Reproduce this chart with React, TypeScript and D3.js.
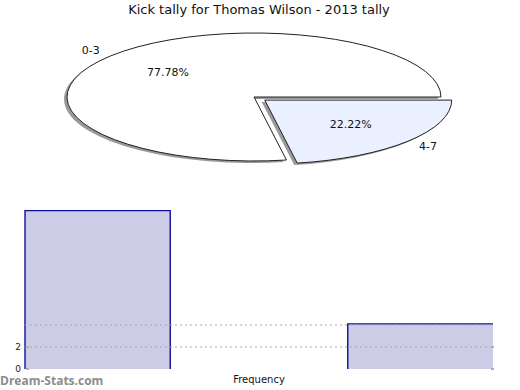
import * as d3 from "d3";

const WIDTH = 520;
const HEIGHT = 390;
const TITLE = "Kick tally for Thomas Wilson - 2013 tally";

// pie data
const pieLabels = ["0-3", "4-7"];
const pieValues = [7, 2];
const pieFills = ["#ffffff", "#eaf0ff"];
const pieExplode = [0, 0.075];

// histogram data
const histBins = ["0-3", "mid", "4-7"];
const histValues = [14.4, 0, 4.1];
const gridValues = [2, 4];
const yTickLabels = [0, 2];

const PIE = { cx: 254, cy: 97, rx: 187, ry: 64 };
const HIST = { left: 25, right: 493, bottom: 369, top: 193 };
const FONT = "DejaVu Sans, sans-serif";

const pt = (a: number, f = 1) => {
  const t = a - Math.PI / 2;
  return [PIE.cx + PIE.rx * f * Math.cos(t), PIE.cy + PIE.ry * f * Math.sin(t)];
};

const slicePath = (a0: number, a1: number) => {
  const [x0, y0] = pt(a0);
  const [x1, y1] = pt(a1);
  const large = a1 - a0 > Math.PI ? 1 : 0;
  return `M${PIE.cx},${PIE.cy}L${x0},${y0}A${PIE.rx},${PIE.ry} 0 ${large} 1 ${x1},${y1}Z`;
};

export default function App() {
  const start = Math.PI / 2 + (2 * Math.PI * pieValues[1]) / d3.sum(pieValues);
  const arcs = d3
    .pie<number>()
    .sort(null)
    .startAngle(start)
    .endAngle(start + 2 * Math.PI)(pieValues);
  const total = d3.sum(pieValues);

  const x = d3
    .scaleBand()
    .domain(histBins)
    .range([HIST.left, HIST.right])
    .paddingInner(0.1)
    .paddingOuter(0);
  const y = d3.scaleLinear().domain([0, 16]).range([HIST.bottom, HIST.top]);

  return (
    <svg
      width={WIDTH}
      height={HEIGHT}
      style={{ position: "absolute", left: 0, top: 0, background: "#fff" }}
      fontFamily={FONT}
    >
      <text x={259} y={14} textAnchor="middle" fontSize={13} fill="#111">
        {TITLE}
      </text>

      {/* shadows */}
      {arcs.map((a, i) => {
        const mid = (a.startAngle + a.endAngle) / 2;
        const [ex, ey] = pt(mid, pieExplode[i]);
        const dx = ex - PIE.cx - 3;
        const dy = ey - PIE.cy + 2;
        return (
          <path
            key={"s" + i}
            d={slicePath(a.startAngle, a.endAngle)}
            transform={`translate(${dx},${dy})`}
            fill="#9a9a9a"
          />
        );
      })}
      {arcs.map((a, i) => {
        const mid = (a.startAngle + a.endAngle) / 2;
        const [ex, ey] = pt(mid, pieExplode[i]);
        const dx = ex - PIE.cx;
        const dy = ey - PIE.cy;
        const [lx, ly] = pt(mid, 0.6);
        const [ox, oy] = pt(mid, 1.14);
        return (
          <g key={i}>
            <path
              d={slicePath(a.startAngle, a.endAngle)}
              transform={`translate(${dx},${dy})`}
              fill={pieFills[i]}
              stroke="#222"
              strokeWidth={1}
            />
            <text
              x={lx + dx}
              y={ly + dy}
              textAnchor="middle"
              dominantBaseline="central"
              fontSize={11}
              fill="#111"
            >
              {((pieValues[i] / total) * 100).toFixed(2)}%
            </text>
            <text
              x={ox + dx}
              y={oy + dy}
              textAnchor="middle"
              dominantBaseline="central"
              fontSize={11}
              fill="#111"
            >
              {pieLabels[i]}
            </text>
          </g>
        );
      })}

      {/* histogram */}
      {histBins.map((b, i) => {
        if (!histValues[i]) return null;
        const x0 = x(b)!;
        const w = x.bandwidth();
        const yt = y(histValues[i]);
        return (
          <g key={b}>
            <rect x={x0} y={yt} width={w} height={HIST.bottom - yt} fill="#ccccE6" />
            <path
              d={`M${x0},${HIST.bottom}V${yt}H${x0 + w}${x0 + w < HIST.right - 1 ? `V${HIST.bottom}` : ""}`}
              fill="none"
              stroke="#10109a"
              strokeWidth={1.4}
            />
          </g>
        );
      })}
      {gridValues.map((v) => (
        <line
          key={v}
          x1={HIST.left}
          x2={HIST.right}
          y1={y(v)}
          y2={y(v)}
          stroke="#aaaaaa"
          strokeWidth={1}
          strokeDasharray="2,3"
        />
      ))}
      {yTickLabels.map((v) => (
        <g key={v}>
          <rect x={HIST.left + 1} y={y(v) - 1} width={3} height={2} fill="#b0b0b0" />
          <rect x={HIST.right - 2} y={y(v) - 1} width={3} height={2} fill="#b0b0b0" />
          <text
            x={HIST.left - 4}
            y={y(v)}
            textAnchor="end"
            dominantBaseline="central"
            fontSize={9}
            fill="#222"
          >
            {v}
          </text>
        </g>
      ))}
      <text x={259} y={383} textAnchor="middle" fontSize={10} fill="#111">
        Frequency
      </text>
      <text x={0} y={385} fontSize={12} fontWeight="bold" fill="#8c8c8c" fontFamily="Open Sans, sans-serif">
        Dream-Stats.com
      </text>
    </svg>
  );
}
